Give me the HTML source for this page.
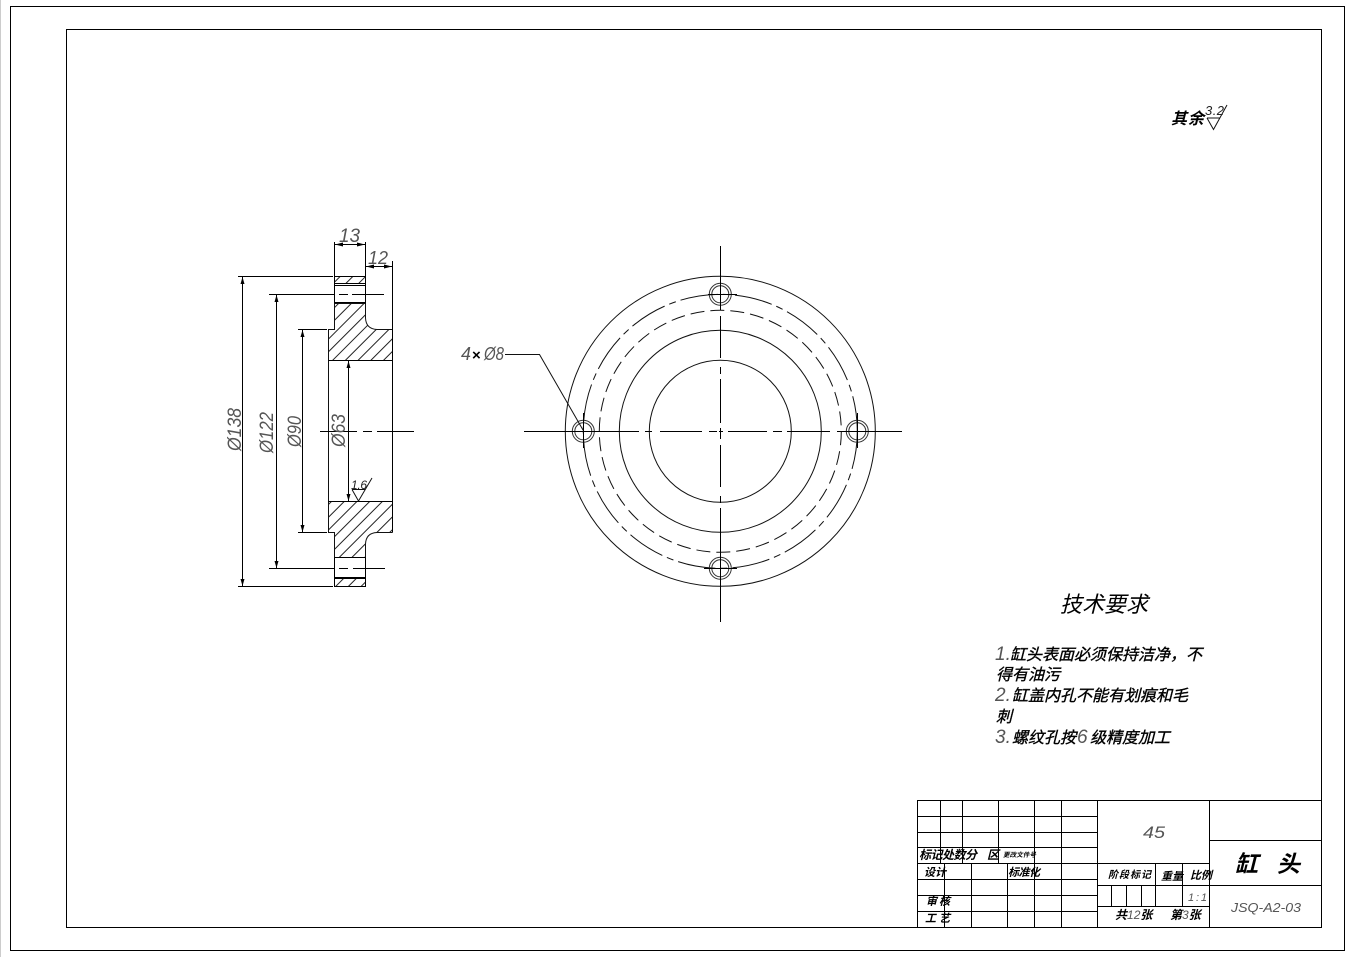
<!DOCTYPE html>
<html lang="zh">
<head>
<meta charset="utf-8">
<title>缸头</title>
<style>
html,body{margin:0;padding:0;background:#fff;width:1354px;height:957px;overflow:hidden}
svg{display:block}
.l{stroke:#000;stroke-width:1;fill:none;shape-rendering:crispEdges}
.c{stroke:#111;stroke-width:1;fill:none}
.t{font-family:"Liberation Sans",sans-serif;font-style:italic;fill:#555;stroke:none}
.z{font-family:"Liberation Sans","Noto Sans CJK SC",sans-serif;font-style:italic;fill:#000}
.b{font-weight:700}
</style>
</head>
<body>
<svg width="1354" height="957" viewBox="0 0 1354 957" xmlns="http://www.w3.org/2000/svg">
<defs>
<pattern id="h" width="9" height="9" patternUnits="userSpaceOnUse" patternTransform="rotate(45)">
<line x1="4" y1="0" x2="4" y2="9" stroke="#222" stroke-width="1"/>
</pattern>
</defs>
<rect width="1354" height="957" fill="#fff"/>
<rect x="0" y="0" width="1" height="957" fill="#ccc"/>

<!-- frames -->
<rect class="l" x="10.5" y="6.5" width="1334" height="944"/>
<rect class="l" x="66.5" y="29.5" width="1255" height="898"/>

<!-- section view hatching -->
<path fill="url(#h)" d="M334.5 303.5H365.5V318Q366 329 377 329.5H392.5V360.5H328.5V329.5H334.5Z"/>
<path fill="url(#h)" d="M328.5 501.5H392.5V532.5H377Q366 533 365.5 544V557.5H334.5V532.5H328.5Z"/>
<rect fill="url(#h)" x="334.5" y="276.5" width="31" height="7"/>
<rect fill="url(#h)" x="334.5" y="578.5" width="31" height="8"/>

<!-- section view outline -->
<path class="c" d="M334.5 303.5H365.5V318Q366 329 377 329.5H392.5M334.5 303.5V329.5H328.5V532.5H334.5V557.5H365.5V544Q366 533 377 532.5H392.5"/>
<path class="l" d="M392.5 261V532.5M328.5 360.5H392.5M328.5 501.5H392.5"/>
<path class="l" d="M334.5 242V303.5M365.5 242V303.5M334.5 557.5V586.5H365.5V557.5"/>
<path class="l" d="M334.5 276.5H365.5M334.5 283.5H365.5M334.5 285.5H365.5M334.5 302.5H365.5M334.5 557.5H365.5M334.5 578.5H365.5M334.5 577.5H365.5"/>
<!-- dims left -->
<path class="l" d="M238 276.5H333M269 294.5H334M298 329.5H327M238 586.5H333M269 568.5H334M298 532.5H327"/>
<path class="l" d="M242.5 277V586M276.5 295V568M302.5 330V532M348.5 361V501"/>
<path class="l" d="M339 294.5H348M352 294.5H384M339 568.5H348M353 568.5H385M320 431.5H357M363 431.5H372M377 431.5H414"/>
<path class="l" d="M335 244.5H365M366 266.5H392"/>
<!-- arrowheads -->
<path d="M242.5 277l-2 7h4zM242.5 586l-2-7h4zM276.5 295l-2 7h4zM276.5 568l-2-7h4zM302.5 330l-2 7h4zM302.5 532l-2-7h4zM348.5 361l-2 7h4zM348.5 501l-2-7h4zM335 244.5l8-2v4zM365 244.5l-8-2v4zM366 266.5l8-2v4zM392 266.5l-8-2v4z" fill="#000"/>

<g class="t">
<text x="339" y="242" font-size="19" textLength="21" lengthAdjust="spacingAndGlyphs">13</text>
<text x="368" y="264" font-size="18" textLength="20" lengthAdjust="spacingAndGlyphs">12</text>
<text transform="translate(241,451) rotate(-90)" font-size="19" textLength="43" lengthAdjust="spacingAndGlyphs">Ø138</text>
<text transform="translate(273,453) rotate(-90)" font-size="19" textLength="41" lengthAdjust="spacingAndGlyphs">Ø122</text>
<text transform="translate(301,447) rotate(-90)" font-size="19" textLength="31" lengthAdjust="spacingAndGlyphs">Ø90</text>
<text transform="translate(345,447) rotate(-90)" font-size="19" textLength="33" lengthAdjust="spacingAndGlyphs">Ø63</text>
<text x="351" y="489" font-size="12" textLength="16" style="fill:#222">1.6</text>
<text x="461" y="360" font-size="18" textLength="10" lengthAdjust="spacingAndGlyphs">4</text>
<text x="484" y="360" font-size="18" textLength="20" lengthAdjust="spacingAndGlyphs">Ø8</text>
</g>
<text class="z b" x="472" y="360" font-size="15" style="font-style:normal">×</text>
<path class="c" d="M352 489.5H365M352 489.5L358.5 501L372 478"/>

<!-- front view -->
<g class="c">
<circle cx="720.3" cy="431.3" r="155"/>
<circle cx="720.3" cy="431.3" r="137" stroke-dasharray="38 5 7 5"/>
<circle cx="720.3" cy="431.3" r="121" stroke-dasharray="14 6"/>
<circle cx="720.3" cy="431.3" r="101"/>
<circle cx="720.3" cy="431.3" r="71"/>
<g stroke="#333">
<circle cx="583.3" cy="431.3" r="11"/><circle cx="583.3" cy="431.3" r="8.5"/>
<circle cx="857.3" cy="431.3" r="11"/><circle cx="857.3" cy="431.3" r="8.5"/>
<circle cx="720.3" cy="294.3" r="11"/><circle cx="720.3" cy="294.3" r="8.5"/>
<circle cx="720.3" cy="568.3" r="11"/><circle cx="720.3" cy="568.3" r="8.5"/>
</g>
</g>
<path class="l" d="M524 431.5H639M645 431.5H652M660 431.5H702M709 431.5H717M719 431.5H723M728 431.5H767M773 431.5H782M787 431.5H830M837 431.5H902"/>
<path class="l" d="M720.5 246V310M720.5 316V358M720.5 367V374M720.5 379V423M720.5 428V439M720.5 445V487M720.5 496V503M720.5 508V622"/>
<path class="l" d="M708 294.5H737M704 568.5H737M583.5 413V448M857.5 413V448"/>
<path class="c" d="M505 354.5H539.5L583 430"/>

<!-- surface finish -->
<path class="c" d="M1207 118H1220M1207 118L1213.5 129.5L1227 105"/>
<text class="t" x="1205" y="115" font-size="13" textLength="19" style="fill:#222">3.2</text>
<text class="z b" x="1171" y="124" font-size="16" textLength="33">其余</text>

<!-- technical requirements -->
<text class="z" x="1060" y="612" font-size="22">技术要求</text>
<g class="z" font-size="16" stroke="#000" stroke-width=".35">
<text x="995" y="660"><tspan class="t" font-size="19">1.</tspan><tspan x="1010">缸头表面必须保持洁净，不</tspan></text>
<text x="996" y="680">得有油污</text>
<text x="995" y="701"><tspan class="t" font-size="19">2.</tspan><tspan x="1012">缸盖内孔不能有划痕和毛</tspan></text>
<text x="996" y="722">刺</text>
<text x="995" y="743"><tspan class="t" font-size="19">3.</tspan><tspan x="1012">螺纹孔按</tspan><tspan class="t" x="1077" font-size="19">6</tspan><tspan x="1090">级精度加工</tspan></text>
</g>

<!-- title block -->
<path class="l" d="M917.5 800.5H1321.5M917.5 816.5H1097.5M917.5 832.5H1097.5M917.5 847.5H1097.5M917.5 863.5H1209.5M917.5 879.5H1097.5M917.5 895.5H1097.5M917.5 911.5H1097.5M917.5 927.5H1321.5"/>
<path class="l" d="M917.5 800V927M940.5 800V863M962.5 800V863M998.5 800V863M1034.5 800V927M1061.5 800V927M1097.5 800V927M944.5 863V927M971.5 863V927M1007.5 863V927"/>
<path class="l" d="M1209.5 800V927M1209.5 840.5H1321.5M1097.5 885.5H1321.5M1097.5 906.5H1209.5M1155.5 863V906M1182.5 863V906M1111.5 885V906M1126.5 885V906M1141.5 885V906"/>

<g class="z b">
<text x="919" y="859" font-size="12" textLength="58">标记处数分</text>
<text x="987" y="859" font-size="12">区</text>
<text x="1003" y="857" font-size="6.5" textLength="33">更改文件号</text>
<text x="924" y="876" font-size="11" textLength="22">设计</text>
<text x="1008" y="876" font-size="11" textLength="32">标准化</text>
<text x="926" y="905" font-size="11" textLength="24">审核</text>
<text x="925" y="922" font-size="11" textLength="25">工艺</text>
<text x="1108" y="878" font-size="10" textLength="43">阶段标记</text>
<text x="1161" y="880" font-size="11" textLength="22">重量</text>
<text x="1190" y="879" font-size="11" textLength="22">比例</text>
<text x="1115" y="919" font-size="12">共<tspan class="t" font-weight="400">12</tspan>张</text>
<text x="1170" y="919" font-size="12">第<tspan class="t" font-weight="400">3</tspan>张</text>
<text x="1235" y="872" font-size="23" textLength="65">缸 头</text>
</g>
<g class="t">
<text x="1143" y="838" font-size="17" textLength="22" lengthAdjust="spacingAndGlyphs">45</text>
<text x="1188" y="901" font-size="11" textLength="19">1:1</text>
<text x="1231" y="912" font-size="13" textLength="70" lengthAdjust="spacingAndGlyphs">JSQ-A2-03</text>
</g>
</svg>
</body>
</html>
